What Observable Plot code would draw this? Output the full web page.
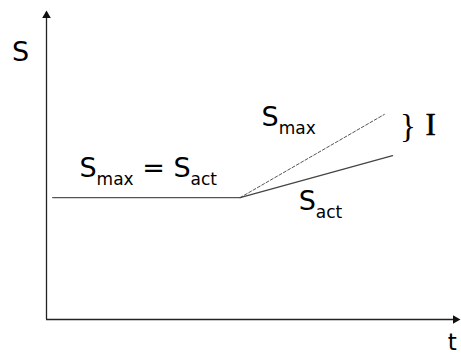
<!DOCTYPE html>
<html>
<head>
<meta charset="utf-8">
<script src="https://cdn.jsdelivr.net/npm/d3@7"></script>
<script src="https://cdn.jsdelivr.net/npm/@observablehq/plot@0.6"></script>
<style>
  html, body { margin: 0; padding: 0; background: #fff; }
</style>
</head>
<body>
<div id="chart"></div>
<script>
// Conceptual axes: time t (0..10) and S (0..10)
const axisT = [0, 10];
const axisS = [0, 10];

// Common path before the kink
const flatT = [0.15, 4.7];
const flatS = [3.97, 3.97];
// S_max branch (dashed) after the kink
const maxT = [4.7, 8.2];
const maxS = [3.97, 6.68];
// S_act branch (solid) after the kink
const actT = [4.7, 8.4];
const actS = [3.97, 5.34];

// Annotation labels (text, anchor point in data units)
const labelText = ["S_max = S_act", "S_max", "S_act"];
const labelT = [0.8, 5.22, 6.12];
const labelS = [4.92, 6.58, 3.84];

const toPts = (ts, ss) => ts.map((t, i) => ({t, s: ss[i]}));

const sans = "DejaVu Sans, Verdana, sans-serif";
const serif = "Liberation Serif, Times New Roman, serif";

const plot = Plot.plot({
  width: 461,
  height: 356,
  marginLeft: 46,
  marginRight: 3,
  marginTop: 12,
  marginBottom: 37,
  x: {domain: axisT, axis: null},
  y: {domain: axisS, axis: null},
  style: {fontFamily: sans, background: "#fff", overflow: "visible"},
  marks: [
    // axes
    Plot.ruleY([axisS[0]], {x1: axisT[0], x2: axisT[1], stroke: "#222", strokeWidth: 1.3}),
    Plot.ruleX([axisT[0]], {y1: axisS[0], y2: axisS[1], stroke: "#222", strokeWidth: 1.3}),
    Plot.dot([{t: axisT[1], s: axisS[0]}], {x: "t", y: "s", symbol: "triangle", r: 3.2, fill: "#111", stroke: null, rotate: 90, dx: -3}),
    Plot.dot([{t: axisT[0], s: axisS[1]}], {x: "t", y: "s", symbol: "triangle", r: 3.2, fill: "#111", stroke: null, dy: 3}),
    // curves
    Plot.line(toPts(flatT, flatS), {x: "t", y: "s", stroke: "#555", strokeWidth: 1.3}),
    Plot.line(toPts(maxT, maxS), {x: "t", y: "s", stroke: "#555", strokeWidth: 1, strokeDasharray: "3,2"}),
    Plot.line(toPts(actT, actS), {x: "t", y: "s", stroke: "#444", strokeWidth: 1.3}),
    // labels
    Plot.text(labelText.map((text, i) => ({text, t: labelT[i], s: labelS[i]})),
      {x: "t", y: "s", text: "text", textAnchor: "start", fontSize: 27, fill: "#000", className: "sublabel"}),
    Plot.text([{t: -0.63, s: 8.7}], {x: "t", y: "s", text: () => "S", fontSize: 27, fill: "#000"}),
    Plot.text([{t: 9.85, s: -0.74}], {x: "t", y: "s", text: () => "t", fontSize: 23, fill: "#000"}),
    Plot.text([{t: 8.77, s: 6.3}], {x: "t", y: "s", text: () => "}", fontSize: 33, fontFamily: serif, fill: "#000"}),
    Plot.text([{t: 9.2, s: 6.34}], {x: "t", y: "s", text: () => "I", fontSize: 31, fontFamily: serif, textAnchor: "start", fill: "#000", stroke: "#000", strokeWidth: 0.6})
  ]
});

// Render subscripts: "X_sub" -> X with a smaller lowered "sub"
const SUB_SIZE = 17, SUB_DY = 8;
plot.querySelectorAll(".sublabel text").forEach(node => {
  const raw = node.textContent;
  const parts = raw.split(/(_[a-z]+)/);
  while (node.firstChild) node.removeChild(node.firstChild);
  let lowered = false;
  parts.forEach(p => {
    if (!p) return;
    const ts = document.createElementNS("http://www.w3.org/2000/svg", "tspan");
    if (p.startsWith("_")) {
      ts.textContent = p.slice(1);
      ts.setAttribute("font-size", SUB_SIZE);
      ts.setAttribute("dy", SUB_DY);
      lowered = true;
    } else {
      ts.textContent = p;
      if (lowered) { ts.setAttribute("dy", -SUB_DY); lowered = false; }
    }
    node.appendChild(ts);
  });
});

document.getElementById("chart").appendChild(plot);
</script>
</body>
</html>
